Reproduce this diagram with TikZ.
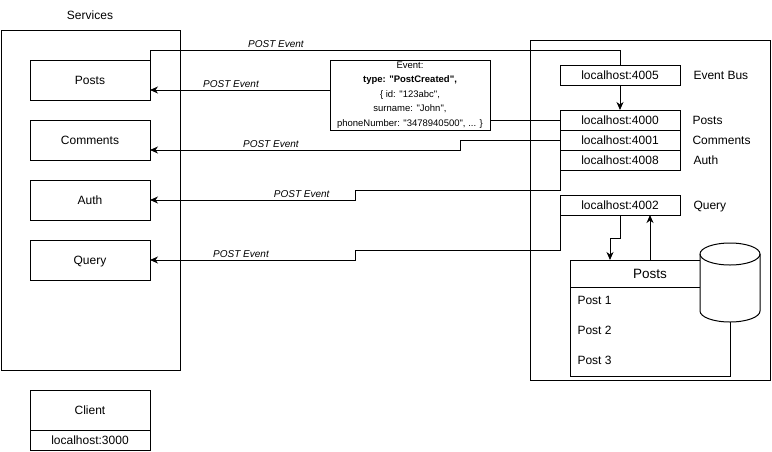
\documentclass[tikz,border=0pt]{standalone}
\usepackage{fontspec}
\setmainfont{Liberation Sans}[Ligatures=TeXOff]
\usetikzlibrary{positioning, calc, arrows.meta}
\tikzstyle{pbox} = [%
  rectangle,
  draw=black,
  minimum width=120pt,
  minimum height=40pt,
  inner sep=1pt,
  outer sep=0pt,
  text centered,
  text height=8.6pt,
  text depth=0pt,
  font=\fontsize{12}{14}\selectfont
]
\tikzstyle{pport} = [pbox, minimum height=20pt]

\begin{document}
\begin{tikzpicture}[%
  x=1pt, y=-1pt,
  line width=1pt,
  >={Stealth[length=8pt,width=7pt,inset=2.5pt]},
  every node/.style={font=\fontsize{12}{14}\selectfont},
  evlabel/.style={font=\fontsize{10}{12}\selectfont\itshape, anchor=south, inner sep=2pt},
  side/.style={inner sep=0pt, text height=8.6pt, text depth=0pt},
  frame/.style={draw=black, inner sep=0pt, outer sep=0pt}
]
  \useasboundingbox (0,0) rectangle (772,451);

  % Frames
  \node[frame, minimum width=179pt, minimum height=340pt] (svcframe) at (90.5,200) {};
  \node (svctitle) at (90,15) {Services};
  \node[frame, minimum width=240pt, minimum height=340pt] (busframe) at (650,210) {};

  % Services
  \node[pbox] (posts) at (90,80) {Posts};
  \node[pbox, below=20pt of posts] (comments) {Comments};
  \node[pbox, below=20pt of comments] (auth) {Auth};
  \node[pbox, below=20pt of auth] (query) {Query};
  \node[pbox] (client) at (90,410) {Client};
  \node[pport, below=0pt of client] (clientport) {localhost:3000};

  % Ports
  \node[pport] (bus) at (620,75) {localhost:4005};
  \node[pport] (p4000) at (620,120) {localhost:4000};
  \node[pport, below=0pt of p4000] (p4001) {localhost:4001};
  \node[pport, below=0pt of p4001] (p4008) {localhost:4008};
  \node[pport] (p4002) at (620,205) {localhost:4002};
  \node[side, right=13pt of bus] (buslbl) {Event Bus};
  \node[side, right=12pt of p4000] (p4000lbl) {Posts};
  \node[side, right=12pt of p4001] (p4001lbl) {Comments};
  \node[side, right=13pt of p4008] (p4008lbl) {Auth};
  \node[side, right=13pt of p4002] (p4002lbl) {Query};

  % Event payload
  \node[draw, minimum width=160pt, minimum height=70pt, outer sep=0pt, inner sep=1pt, align=center,
    font=\fontsize{9.5}{14.5}\selectfont] (event) at (410,95)
    {Event:\\\textbf{type: "PostCreated",}\\\{ id: "123abc",\\surname: "John",\\phoneNumber: "3478940500", ... \}};

  % Posts table
  \node[draw, minimum width=160pt, minimum height=116pt, outer sep=0pt] (tbl) at (650,318) {};
  \node[draw, anchor=north, minimum width=160pt, minimum height=27pt, outer sep=0pt,
    font=\fontsize{13.5}{16}\selectfont] (tblhead) at (tbl.north) {Posts};
  \node[side, anchor=west] (row1) at (577,300) {Post 1};
  \node[side, anchor=west] (row2) at (577,330) {Post 2};
  \node[side, anchor=west] (row3) at (577,360) {Post 3};

  % Database
  \draw[fill=white] (700,254) -- (700,311) arc[start angle=180, end angle=360, x radius=30pt, y radius=11pt]
    -- (760,254) arc[start angle=0, end angle=180, x radius=30pt, y radius=11pt] -- cycle;
  \draw (700,254) arc[start angle=180, end angle=360, x radius=30pt, y radius=11pt];

  % Event edges
  \draw (bus.north) -- ++(0,-15) -| node[evlabel, pos=0.366] {POST Event} (posts.north east);
  \draw[->] ([yshift=5pt]event.west) -- node[evlabel, pos=0.55] {POST Event} ([yshift=-10pt]posts.east);
  \draw (p4000.west) -- (p4000.west -| event.east);
  \draw[->] (p4001.west) -- ++(-100,0) |- node[evlabel, pos=0.805] {POST Event} ([yshift=-10pt]comments.east);
  \draw[->] (p4008.south west) -- ++(0,20) -- ++(-205,0) |- node[evlabel, pos=0.63] {POST Event} (auth.east);
  \draw[->] (p4002.south west) -- ++(0,35) -- ++(-205,0) |- node[evlabel, pos=0.778] {POST Event} (query.east);

  % Bus and query edges
  \draw[->] (bus.south) -- (p4000.north);
  \draw[->] (p4002.south) -- ++(0,23) -| ([xshift=-40pt]tblhead.north);
  \draw[->] (tblhead.north) -- (tblhead.north |- p4002.south);

\end{tikzpicture}
\end{document}
